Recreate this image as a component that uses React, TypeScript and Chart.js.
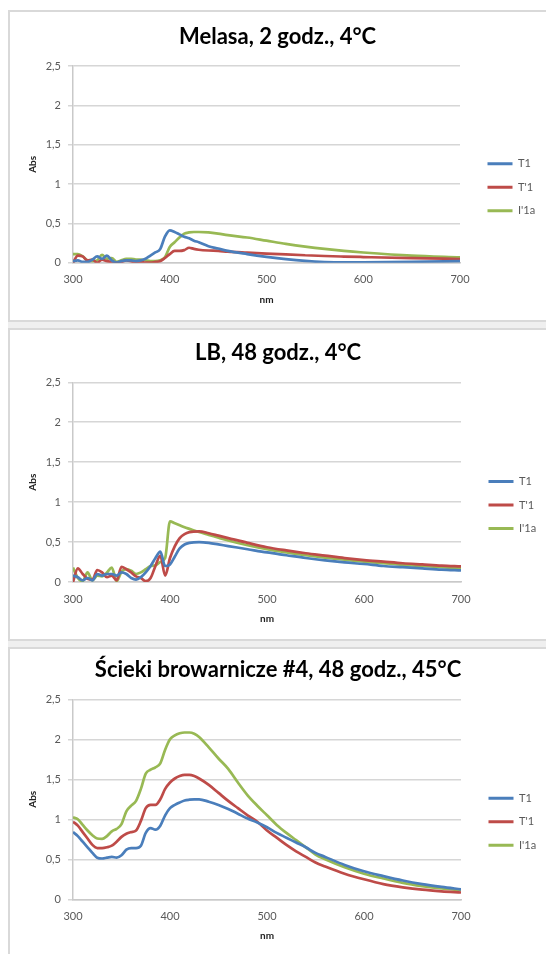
import React, { useEffect, useRef } from 'react';
import { Chart, registerables } from 'chart.js';

Chart.register(...registerables);

const FONT = 'Lato';

const seriesLabels = ['T1', "T'1", "I'1a"];
const seriesColors = ['#4A7EBB', '#BE4B48', '#98B954'];
const xTickLabels = ['300', '400', '500', '600', '700'];
const yTickLabels = ['0', '0,5', '1', '1,5', '2', '2,5'];
const titles = ['Melasa, 2 godz., 4°C', 'LB, 48 godz., 4°C', 'Ścieki browarnicze #4, 48 godz., 45°C'];

// Panel 1: Melasa
const nm1 = [300, 305, 310, 315, 320, 325, 330, 335, 340, 345, 350, 355, 360, 365, 370, 375, 380, 385, 390, 395, 400, 405, 410, 415, 420, 425, 430, 440, 450, 460, 480, 500, 520, 540, 560, 580, 600, 650, 700];
const t1_1 = [0.02, 0.03, 0.01, 0.01, 0.04, 0.08, 0.05, 0.09, 0.03, 0.0, 0.02, 0.03, 0.03, 0.02, 0.03, 0.05, 0.09, 0.13, 0.17, 0.33, 0.41, 0.39, 0.36, 0.33, 0.31, 0.28, 0.26, 0.21, 0.18, 0.15, 0.11, 0.075, 0.045, 0.022, 0.008, 0.003, 0.005, 0.012, 0.02];
const tp1_1 = [0.0, 0.09, 0.08, 0.03, 0.04, 0.0, 0.04, 0.02, 0.01, 0.0, 0.01, 0.03, 0.02, 0.0, 0.01, 0.0, 0.0, 0.01, 0.02, 0.06, 0.11, 0.15, 0.15, 0.16, 0.19, 0.175, 0.165, 0.155, 0.15, 0.14, 0.127, 0.115, 0.105, 0.095, 0.085, 0.078, 0.072, 0.058, 0.047];
const i1a_1 = [0.11, 0.11, 0.08, 0.03, 0.02, 0.03, 0.1, 0.05, 0.06, 0.01, 0.03, 0.05, 0.05, 0.04, 0.04, 0.03, 0.02, 0.02, 0.03, 0.07, 0.2, 0.26, 0.32, 0.37, 0.385, 0.39, 0.39, 0.385, 0.37, 0.35, 0.32, 0.28, 0.24, 0.205, 0.175, 0.15, 0.13, 0.09, 0.068];

// Panel 2: LB
const nm2 = [300, 305, 310, 315, 320, 325, 330, 335, 340, 345, 350, 355, 360, 365, 370, 375, 380, 385, 390, 395, 400, 405, 410, 415, 420, 430, 440, 450, 460, 480, 500, 520, 540, 560, 580, 600, 620, 640, 660, 680, 700];
const t1_2 = [0.08, 0.06, 0.02, 0.05, 0.02, 0.1, 0.08, 0.1, 0.1, 0.08, 0.12, 0.1, 0.05, 0.03, 0.06, 0.12, 0.2, 0.3, 0.38, 0.2, 0.22, 0.32, 0.42, 0.47, 0.49, 0.5, 0.49, 0.47, 0.45, 0.41, 0.37, 0.335, 0.3, 0.27, 0.245, 0.225, 0.2, 0.185, 0.17, 0.155, 0.145];
const tp1_2 = [0.0, 0.17, 0.1, 0.04, 0.03, 0.15, 0.12, 0.06, 0.08, 0.02, 0.19, 0.16, 0.12, 0.07, 0.05, 0.01, 0.05, 0.2, 0.33, 0.08, 0.3, 0.45, 0.55, 0.6, 0.625, 0.635, 0.61, 0.58, 0.55, 0.49, 0.435, 0.395, 0.36, 0.33, 0.3, 0.275, 0.255, 0.235, 0.22, 0.205, 0.195];
const i1a_2 = [0.18, 0.05, 0.01, 0.12, 0.02, 0.08, 0.07, 0.12, 0.18, 0.01, 0.13, 0.16, 0.14, 0.1, 0.12, 0.16, 0.2, 0.21, 0.25, 0.3, 0.76, 0.735, 0.71, 0.685, 0.665, 0.625, 0.59, 0.555, 0.52, 0.46, 0.41, 0.37, 0.335, 0.305, 0.28, 0.255, 0.235, 0.215, 0.2, 0.185, 0.17];

// Panel 3: Ścieki browarnicze
const nm3 = [300, 305, 310, 315, 320, 325, 330, 335, 340, 345, 350, 355, 360, 365, 370, 375, 380, 385, 390, 395, 400, 405, 410, 415, 420, 425, 430, 440, 450, 460, 470, 480, 490, 500, 510, 520, 530, 540, 550, 560, 580, 600, 620, 640, 660, 680, 700];
const t1_3 = [0.84, 0.79, 0.72, 0.65, 0.58, 0.52, 0.51, 0.52, 0.53, 0.52, 0.55, 0.62, 0.64, 0.64, 0.67, 0.83, 0.89, 0.87, 0.92, 1.05, 1.14, 1.18, 1.21, 1.235, 1.245, 1.25, 1.25, 1.22, 1.18, 1.13, 1.07, 1.01, 0.96, 0.9, 0.83, 0.77, 0.71, 0.65, 0.58, 0.53, 0.43, 0.35, 0.29, 0.235, 0.19, 0.155, 0.125];
const tp1_3 = [0.97, 0.92, 0.84, 0.76, 0.68, 0.64, 0.64, 0.65, 0.67, 0.72, 0.78, 0.82, 0.84, 0.86, 0.98, 1.14, 1.18, 1.18, 1.25, 1.38, 1.46, 1.51, 1.54, 1.555, 1.555, 1.54, 1.51, 1.43, 1.33, 1.23, 1.14, 1.05, 0.97, 0.86, 0.77, 0.68, 0.6, 0.53, 0.46, 0.41, 0.32, 0.25, 0.19, 0.15, 0.12, 0.1, 0.085];
const i1a_3 = [1.025, 1.0, 0.93, 0.86, 0.8, 0.76, 0.755, 0.79, 0.85, 0.88, 0.94, 1.1, 1.17, 1.23, 1.38, 1.57, 1.62, 1.65, 1.7, 1.87, 2.0, 2.05, 2.075, 2.085, 2.085, 2.07, 2.03, 1.9, 1.76, 1.63, 1.46, 1.3, 1.17, 1.05, 0.93, 0.83, 0.74, 0.65, 0.56, 0.5, 0.4, 0.32, 0.26, 0.205, 0.165, 0.135, 0.115];

const panelData = [
  { nm: nm1, series: [t1_1, tp1_1, i1a_1] },
  { nm: nm2, series: [t1_2, tp1_2, i1a_2] },
  { nm: nm3, series: [t1_3, tp1_3, i1a_3] },
];

// layout (canvas-relative pixel geometry)
const W = 540;
const layouts = [
  { top: 10, h: 308, titleC: 24.7, areaTop: 54, areaBottom: 250.7, right: 450, legendMid: 175.3, nmC: 288 },
  { top: 328, h: 309, titleC: 23.3, areaTop: 52.3, areaBottom: 252, right: 451, legendMid: 175, nmC: 288.3 },
  { top: 647, h: 309, titleC: 21, areaTop: 50.3, areaBottom: 250.3, right: 451, legendMid: 172.7, nmC: 286.7 },
];

const LEG_PAD = 12.5;
const BOX_W = 25;
const LEG_FS = 11;
const GAP = 15;
const TITLE_FS = 22;

function Panel({ idx }: { idx: number }) {
  const ref = useRef<HTMLCanvasElement | null>(null);
  const L = layouts[idx];
  useEffect(() => {
    if (!ref.current) return;
    const d = panelData[idx];
    const mctx = document.createElement('canvas').getContext('2d')!;
    mctx.font = `normal ${LEG_FS}px ${FONT}`;
    const tw = Math.max(...seriesLabels.map((t) => mctx.measureText(t).width));
    const legendW = LEG_PAD + BOX_W + LEG_FS / 2 + tw + 10;
    const padR = Math.max(0, W - L.right - GAP - legendW);
    const titleLH = TITLE_FS * 1.2;
    const tTop = L.titleC - titleLH / 2;
    const tBottom = L.areaTop - tTop - titleLH;
    const legTitleH = 2 * L.legendMid - L.h;

    const chart = new Chart(ref.current, {
      type: 'line',
      data: {
        datasets: d.series.map((vals, i) => ({
          label: seriesLabels[i],
          data: d.nm.map((x, k) => ({ x, y: vals[k] })),
          borderColor: seriesColors[i],
          backgroundColor: seriesColors[i],
          borderWidth: 2.7,
          pointRadius: 0,
          cubicInterpolationMode: 'monotone' as const,
          fill: false,
        })),
      },
      options: {
        animation: false,
        responsive: false,
        devicePixelRatio: 1,
        layout: { padding: { left: 0, top: 0, bottom: 0, right: padR } },
        plugins: {
          tooltip: { enabled: false },
          title: {
            display: true,
            text: titles[idx],
            color: '#000',
            font: { family: FONT, size: TITLE_FS, weight: 'bold', lineHeight: 1.2 },
            padding: { top: tTop, bottom: tBottom },
          },
          legend: {
            display: true,
            position: 'right',
            align: 'center',
            title: {
              display: true,
              text: ' ',
              font: { family: FONT, size: 10, lineHeight: 1.2 },
              padding: { top: 0, bottom: Math.max(0, legTitleH - 12) },
            },
            labels: {
              boxWidth: BOX_W,
              boxHeight: 3,
              padding: LEG_PAD,
              color: '#595959',
              font: { family: FONT, size: LEG_FS },
              generateLabels: (c: any) =>
                c.data.datasets.map((ds: any, i: number) => ({
                  text: ds.label,
                  fillStyle: ds.borderColor,
                  strokeStyle: ds.borderColor,
                  lineWidth: 0,
                  hidden: false,
                  datasetIndex: i,
                  fontColor: '#595959',
                })),
            },
          },
        },
        scales: {
          x: {
            type: 'linear',
            min: 300,
            max: 700,
            afterFit: (s: any) => {
              s.height = L.h - L.areaBottom;
            },
            ticks: {
              stepSize: 100,
              padding: 10.5,
              color: '#595959',
              font: { family: FONT, size: 11 },
              maxRotation: 0,
              callback: (_v: any, i: number) => xTickLabels[i],
            },
            grid: { display: false, drawTicks: false, tickLength: 0 },
            border: { display: true, color: '#c9c9c9', width: 1.5 },
            title: {
              display: true,
              text: 'nm',
              color: '#222',
              font: { family: FONT, size: 10, weight: 'bold', lineHeight: 1.2 },
              padding: { top: 0, bottom: L.h - L.nmC - 6 },
            },
          },
          y: {
            type: 'linear',
            min: 0,
            max: 2.5,
            afterFit: (s: any) => {
              s.width = 63;
            },
            ticks: {
              stepSize: 0.5,
              padding: 7,
              color: '#595959',
              font: { family: FONT, size: 11 },
              callback: (_v: any, i: number) => yTickLabels[i],
            },
            grid: { display: true, color: '#d6d6d6', lineWidth: 1.5, drawTicks: true, tickLength: 5 },
            border: { display: true, color: '#c9c9c9', width: 1.5 },
            title: {
              display: true,
              text: 'Abs',
              color: '#222',
              font: { family: FONT, size: 10, weight: 'bold', lineHeight: 1.2 },
              padding: { top: 17, bottom: 0 },
            },
          },
          pad: {
            type: 'linear',
            position: 'right',
            display: true,
            afterFit: (s: any) => {
              s.width = GAP;
            },
            ticks: { display: false },
            grid: { display: false },
            border: { display: false },
          },
        },
      } as any,
    });
    return () => chart.destroy();
  }, [idx]);

  return (
    <div
      style={{
        position: 'absolute',
        left: 8,
        top: L.top,
        width: W,
        height: L.h,
        border: '2px solid #d9d9d9',
        background: '#fff',
      }}
    >
      <canvas ref={ref} width={W} height={L.h} style={{ display: 'block', width: W, height: L.h }} />
    </div>
  );
}

export default function App() {
  return (
    <div
      style={{
        position: 'fixed',
        left: 0,
        top: 0,
        width: 546,
        height: 954,
        overflow: 'hidden',
        background: '#fff',
        fontFamily: FONT,
      }}
    >
      <div style={{ position: 'absolute', left: 8, top: 322, width: 546, height: 6, background: '#efefef' }} />
      <div style={{ position: 'absolute', left: 8, top: 641, width: 546, height: 6, background: '#efefef' }} />
      <Panel idx={0} />
      <Panel idx={1} />
      <Panel idx={2} />
    </div>
  );
}
